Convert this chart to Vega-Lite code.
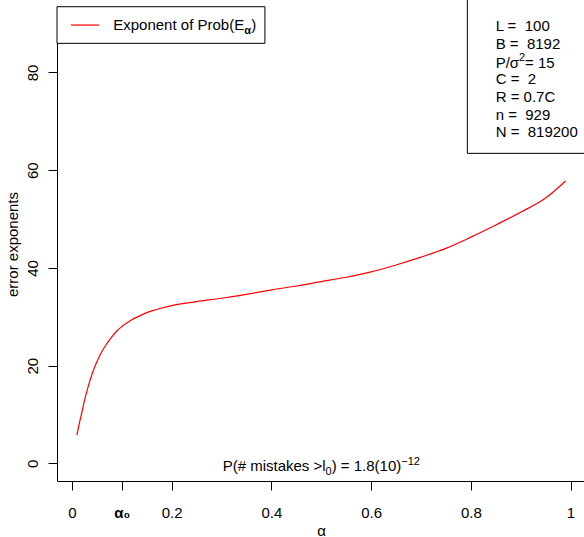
{
  "$schema": "https://vega.github.io/schema/vega-lite/v6.json",
  "width": 527,
  "height": 475,
  "autosize": {"type": "none"},
  "padding": {"left": 57, "top": 6, "right": 0, "bottom": 56},
  "background": "white",
  "config": {
    "view": {"stroke": null},
    "font": "Liberation Sans",
    "axis": {
      "grid": false,
      "domainColor": "black",
      "domainWidth": 1,
      "tickColor": "black",
      "tickWidth": 1,
      "tickSize": 9,
      "labelColor": "black",
      "labelFont": "Liberation Sans",
      "labelFontSize": 15,
      "titleColor": "black",
      "titleFont": "Liberation Sans",
      "titleFontSize": 15,
      "titleFontWeight": "normal",
      "labelFlush": false,
      "labelOverlap": false
    }
  },
  "layer": [
    {
      "data": {
        "values": [
          {"alpha": 0.01, "exponent": 5.8},
          {"alpha": 0.015, "exponent": 8.3},
          {"alpha": 0.02, "exponent": 10.5},
          {"alpha": 0.025, "exponent": 12.8},
          {"alpha": 0.03, "exponent": 14.8},
          {"alpha": 0.04, "exponent": 18.2},
          {"alpha": 0.05, "exponent": 20.8},
          {"alpha": 0.06, "exponent": 22.9},
          {"alpha": 0.07, "exponent": 24.5},
          {"alpha": 0.08, "exponent": 25.9},
          {"alpha": 0.09, "exponent": 27.1},
          {"alpha": 0.1, "exponent": 28.0},
          {"alpha": 0.12, "exponent": 29.4},
          {"alpha": 0.14, "exponent": 30.4},
          {"alpha": 0.16, "exponent": 31.2},
          {"alpha": 0.18, "exponent": 31.8},
          {"alpha": 0.2, "exponent": 32.3},
          {"alpha": 0.25, "exponent": 33.1},
          {"alpha": 0.3, "exponent": 33.8},
          {"alpha": 0.35, "exponent": 34.6},
          {"alpha": 0.4, "exponent": 35.5},
          {"alpha": 0.45, "exponent": 36.3},
          {"alpha": 0.5, "exponent": 37.2},
          {"alpha": 0.55, "exponent": 38.1},
          {"alpha": 0.6, "exponent": 39.2},
          {"alpha": 0.65, "exponent": 40.6},
          {"alpha": 0.7, "exponent": 42.2},
          {"alpha": 0.75, "exponent": 44.0},
          {"alpha": 0.8, "exponent": 46.3},
          {"alpha": 0.85, "exponent": 48.8},
          {"alpha": 0.9, "exponent": 51.4},
          {"alpha": 0.95, "exponent": 54.3},
          {"alpha": 0.99, "exponent": 57.8}
        ]
      },
      "mark": {"type": "line", "color": "#FF0000", "strokeWidth": 1.2, "interpolate": "monotone", "clip": false},
      "encoding": {
        "x": {
          "field": "alpha",
          "type": "quantitative",
          "scale": {"domain": [-0.03, 1.027], "nice": false, "zero": false},
          "axis": {
            "values": [0, 0.1, 0.2, 0.4, 0.6, 0.8, 1],
            "labelExpr": "datum.value == 0.1 ? 'α₀' : datum.value + ''",
            "labelFontWeight": {"condition": {"test": "datum.value == 0.1", "value": "bold"}, "value": "normal"},
            "labelBaseline": "alphabetic",
            "labelAlign": "center",
            "labelPadding": 27,
            "title": "α",
            "titleBaseline": "alphabetic",
            "titleAlign": "center",
            "titleX": 264,
            "titleY": 54
          }
        },
        "y": {
          "field": "exponent",
          "type": "quantitative",
          "scale": {"domain": [-3.6, 93.6], "nice": false, "zero": false},
          "axis": {
            "values": [0, 20, 40, 60, 80],
            "labelAngle": 270,
            "labelAlign": "center",
            "labelBaseline": "alphabetic",
            "labelPadding": 11,
            "title": "error exponents",
            "titleAngle": 270,
            "titleAlign": "center",
            "titleBaseline": "alphabetic",
            "titleX": -40,
            "titleY": 238
          }
        }
      }
    },
    {
      "data": {"values": [{}]},
      "mark": {"type": "text", "align": "left", "baseline": "alphabetic", "fontSize": 15, "fill": "black", "font": "Liberation Sans"},
      "encoding": {
        "x": {"datum": 0.3022},
        "y": {"datum": -1.64},
        "text": {"value": "P(# mistakes >l"}
      }
    },
    {
      "data": {"values": [{}]},
      "mark": {"type": "text", "align": "left", "baseline": "alphabetic", "fontSize": 11, "fill": "black", "font": "Liberation Sans"},
      "encoding": {
        "x": {"datum": 0.5086},
        "y": {"datum": -2.35},
        "text": {"value": "0"}
      }
    },
    {
      "data": {"values": [{}]},
      "mark": {"type": "text", "align": "left", "baseline": "alphabetic", "fontSize": 15, "fill": "black", "font": "Liberation Sans"},
      "encoding": {
        "x": {"datum": 0.5209},
        "y": {"datum": -1.64},
        "text": {"value": ") = 1.8(10)"}
      }
    },
    {
      "data": {"values": [{}]},
      "mark": {"type": "text", "align": "left", "baseline": "alphabetic", "fontSize": 11, "fill": "black", "font": "Liberation Sans"},
      "encoding": {
        "x": {"datum": 0.6604},
        "y": {"datum": -0.3},
        "text": {"value": "−12"}
      }
    },
    {
      "data": {"values": [{}]},
      "mark": {"type": "rect", "fill": "white", "stroke": "black", "strokeWidth": 1},
      "encoding": {
        "x": {"datum": -0.03},
        "x2": {"datum": 0.387},
        "y": {"datum": 93.45},
        "y2": {"datum": 85.96}
      }
    },
    {
      "data": {"values": [{}]},
      "mark": {"type": "rule", "color": "#FF0000", "strokeWidth": 1.2},
      "encoding": {
        "x": {"datum": -0.002},
        "x2": {"datum": 0.054},
        "y": {"datum": 89.7}
      }
    },
    {
      "data": {"values": [{}]},
      "mark": {"type": "text", "align": "left", "baseline": "alphabetic", "fontSize": 15, "fill": "black", "font": "Liberation Sans"},
      "encoding": {
        "x": {"datum": 0.0828},
        "y": {"datum": 88.6},
        "text": {"value": "Exponent of Prob(E"}
      }
    },
    {
      "data": {"values": [{}]},
      "mark": {"type": "text", "align": "left", "baseline": "alphabetic", "fontSize": 11, "fill": "black", "font": "Liberation Sans", "fontWeight": "bold"},
      "encoding": {
        "x": {"datum": 0.3454},
        "y": {"datum": 87.8},
        "text": {"value": "α"}
      }
    },
    {
      "data": {"values": [{}]},
      "mark": {"type": "text", "align": "left", "baseline": "alphabetic", "fontSize": 15, "fill": "black", "font": "Liberation Sans"},
      "encoding": {
        "x": {"datum": 0.3595},
        "y": {"datum": 88.6},
        "text": {"value": ")"}
      }
    },
    {
      "data": {"values": [{}]},
      "mark": {"type": "rect", "fill": "white", "stroke": "black", "strokeWidth": 1, "clip": false},
      "encoding": {
        "x": {"datum": 0.793},
        "x2": {"datum": 1.2},
        "y": {"datum": 97},
        "y2": {"datum": 63.45}
      }
    },
    {
      "data": {"values": [{}]},
      "mark": {"type": "text", "align": "left", "baseline": "alphabetic", "fontSize": 15, "fill": "black", "font": "Liberation Sans", "lineHeight": 17.7},
      "encoding": {
        "x": {"datum": 0.8498},
        "y": {"datum": 88.48},
        "text": {"value": ["L = \u00a0100", "B = \u00a08192"]}
      }
    },
    {
      "data": {"values": [{}]},
      "mark": {"type": "text", "align": "left", "baseline": "alphabetic", "fontSize": 15, "fill": "black", "font": "Liberation Sans", "lineHeight": 17.7},
      "encoding": {
        "x": {"datum": 0.8498},
        "y": {"datum": 77.61},
        "text": {"value": ["C = \u00a02", "R = 0.7C", "n = \u00a0929", "N = \u00a0819200"]}
      }
    },
    {
      "data": {"values": [{}]},
      "mark": {"type": "text", "align": "left", "baseline": "alphabetic", "fontSize": 15, "fill": "black", "font": "Liberation Sans"},
      "encoding": {
        "x": {"datum": 0.8498},
        "y": {"datum": 80.9},
        "text": {"value": "P/σ"}
      }
    },
    {
      "data": {"values": [{}]},
      "mark": {"type": "text", "align": "left", "baseline": "alphabetic", "fontSize": 11, "fill": "black", "font": "Liberation Sans"},
      "encoding": {
        "x": {"datum": 0.8966},
        "y": {"datum": 82.4},
        "text": {"value": "2"}
      }
    },
    {
      "data": {"values": [{}]},
      "mark": {"type": "text", "align": "left", "baseline": "alphabetic", "fontSize": 15, "fill": "black", "font": "Liberation Sans"},
      "encoding": {
        "x": {"datum": 0.9088},
        "y": {"datum": 80.9},
        "text": {"value": "= 15"}
      }
    }
  ]
}
